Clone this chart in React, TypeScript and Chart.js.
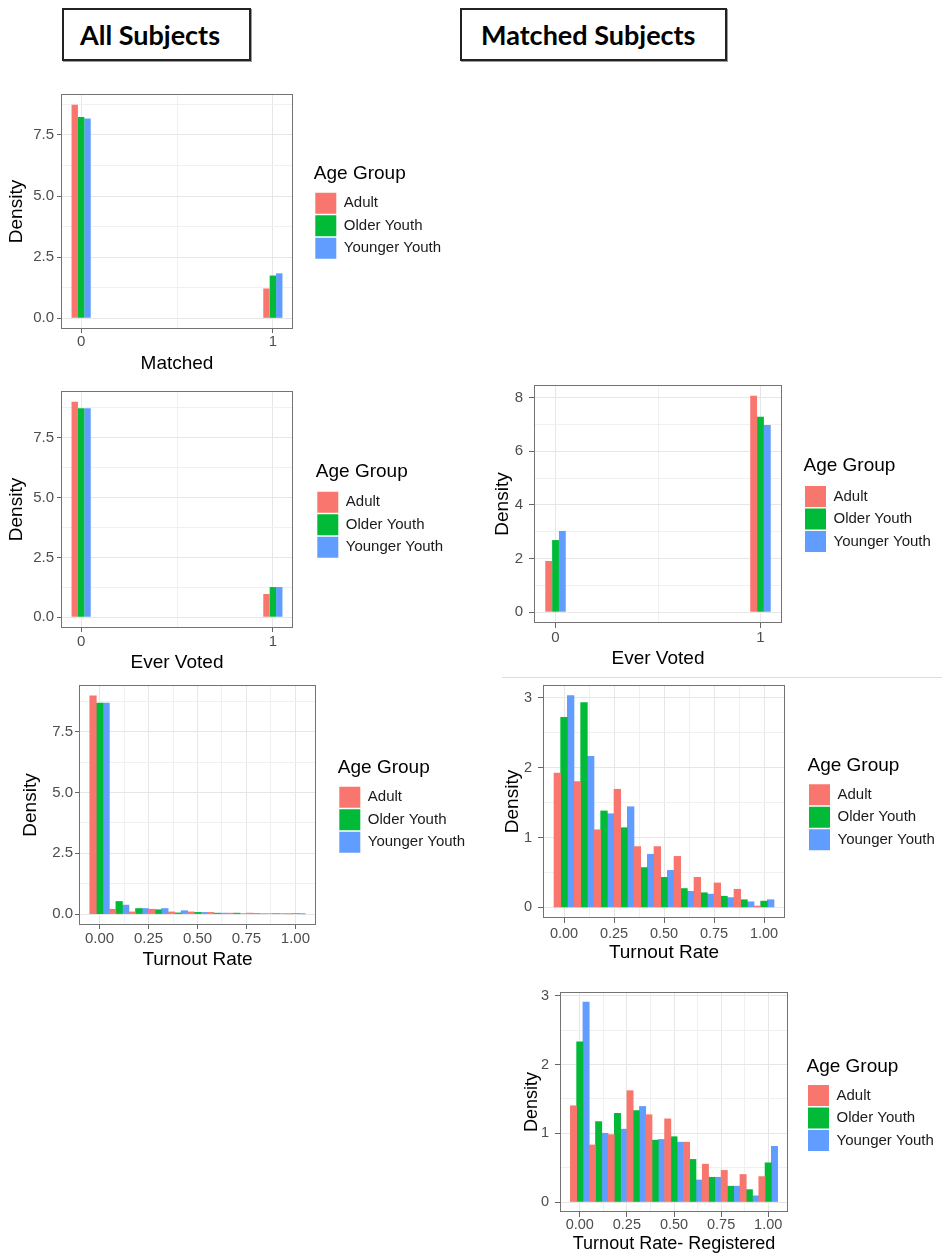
import React, { useEffect, useRef } from "react";
import { Chart, registerables } from "chart.js";

Chart.register(...registerables);
Chart.defaults.font.family = '"Liberation Sans", Arial, Helvetica, sans-serif';

// ---------------- data ----------------
const ageGroups = ["Adult", "Older Youth", "Younger Youth"];
const ageColors = ["#F8766D", "#00BA38", "#619CFF"];

const binWidth = 0.1;
const binaryBins = [0, 1];
const rateBins = [0, 0.1, 0.2, 0.3, 0.4, 0.5, 0.6, 0.7, 0.8, 0.9, 1.0];

// All subjects: Matched
const allMatchedAdult = [8.74, 1.22];
const allMatchedOlder = [8.24, 1.75];
const allMatchedYounger = [8.17, 1.84];

// All subjects: Ever Voted
const allEverVotedAdult = [9.0, 0.97];
const allEverVotedOlder = [8.73, 1.26];
const allEverVotedYounger = [8.73, 1.26];

// All subjects: Turnout Rate
const allTurnoutAdult = [8.98, 0.2, 0.09, 0.2, 0.09, 0.09, 0.07, 0.04, 0.04, 0.02, 0.01];
const allTurnoutOlder = [8.69, 0.52, 0.23, 0.18, 0.05, 0.07, 0.04, 0.04, 0.02, 0.02, 0.02];
const allTurnoutYounger = [8.69, 0.37, 0.23, 0.23, 0.14, 0.07, 0.04, 0.02, 0.02, 0.02, 0.01];

// Matched subjects: Ever Voted
const matchedEverVotedAdult = [1.91, 8.07];
const matchedEverVotedOlder = [2.69, 7.29];
const matchedEverVotedYounger = [3.03, 6.98];

// Matched subjects: Turnout Rate
const matchedTurnoutAdult = [1.92, 1.8, 1.11, 1.69, 0.87, 0.87, 0.73, 0.43, 0.35, 0.26, 0.02];
const matchedTurnoutOlder = [2.72, 2.93, 1.38, 1.14, 0.57, 0.43, 0.27, 0.21, 0.16, 0.11, 0.09];
const matchedTurnoutYounger = [3.03, 2.16, 1.34, 1.44, 0.76, 0.53, 0.23, 0.19, 0.14, 0.08, 0.11];

// Matched subjects: Turnout Rate - Registered
const registeredAdult = [1.4, 0.83, 0.98, 1.62, 1.27, 1.21, 0.87, 0.55, 0.46, 0.4, 0.37];
const registeredOlder = [2.33, 1.17, 1.29, 1.33, 0.9, 0.95, 0.62, 0.36, 0.23, 0.18, 0.57];
const registeredYounger = [2.91, 1.0, 1.06, 1.39, 0.91, 0.87, 0.32, 0.36, 0.23, 0.09, 0.81];

// tick values and labels
const binaryTicks = [0, 1];
const binaryTickLabels = ["0", "1"];
const binaryMinorTicks = [0.5];

const rateTicks = [0, 0.25, 0.5, 0.75, 1];
const rateTickLabels = ["0.00", "0.25", "0.50", "0.75", "1.00"];
const rateMinorTicks = [0.125, 0.375, 0.625, 0.875];

const densityTicksA = [0, 2.5, 5, 7.5];
const densityLabelsA = ["0.0", "2.5", "5.0", "7.5"];
const densityMinorA = [1.25, 3.75, 6.25, 8.75];

const densityTicksEight = [0, 2, 4, 6, 8];
const densityLabelsEight = ["0", "2", "4", "6", "8"];
const densityMinorEight = [1, 3, 5, 7];

const densityTicksThree = [0, 1, 2, 3];
const densityLabelsThree = ["0", "1", "2", "3"];
const densityMinorThree = [0.5, 1.5, 2.5];

// ---------------- layout ----------------
type Box = { left: number; top: number; width: number; height: number };
type Area = { left: number; top: number; right: number; bottom: number };
type PanelSpec = {
  id: string;
  canvas: Box;
  plot: Area;
  bins: number[];
  series: number[][];
  xTicks: number[];
  xTickLabels: string[];
  xMinor: number[];
  xTitle: string;
  yTicks: number[];
  yTickLabels: string[];
  yMinor: number[];
  yTitleX: number;
  xTitleY: number;
  tickFont: number;
  titleFont: number;
  tickLen: number;
  xTickPad: number;
  yTickPad: number;
  legendTitleY: number;
  legendKeyLeft: number;
  legendKeyTop: number;
};

const panels: PanelSpec[] = [
  {
    id: "all-matched",
    canvas: { left: 0, top: 78, width: 470, height: 298 },
    plot: { left: 61, top: 94, right: 293, bottom: 329 },
    bins: binaryBins,
    series: [allMatchedAdult, allMatchedOlder, allMatchedYounger],
    xTicks: binaryTicks, xTickLabels: binaryTickLabels, xMinor: binaryMinorTicks, xTitle: "Matched",
    yTicks: densityTicksA, yTickLabels: densityLabelsA, yMinor: densityMinorA,
    yTitleX: 17, xTitleY: 364, tickFont: 15, titleFont: 19, tickLen: 4, xTickPad: 0, yTickPad: 3,
    legendTitleY: 173.8, legendKeyLeft: 315.3, legendKeyTop: 192.7,
  },
  {
    id: "all-ever",
    canvas: { left: 0, top: 375, width: 470, height: 299 },
    plot: { left: 61, top: 391, right: 293, bottom: 628 },
    bins: binaryBins,
    series: [allEverVotedAdult, allEverVotedOlder, allEverVotedYounger],
    xTicks: binaryTicks, xTickLabels: binaryTickLabels, xMinor: binaryMinorTicks, xTitle: "Ever Voted",
    yTicks: densityTicksA, yTickLabels: densityLabelsA, yMinor: densityMinorA,
    yTitleX: 17, xTitleY: 662.5, tickFont: 15, titleFont: 19, tickLen: 4, xTickPad: 1, yTickPad: 3,
    legendTitleY: 471.7, legendKeyLeft: 317.3, legendKeyTop: 491.7,
  },
  {
    id: "all-turnout",
    canvas: { left: 0, top: 669, width: 500, height: 303 },
    plot: { left: 79, top: 685, right: 316, bottom: 925 },
    bins: rateBins,
    series: [allTurnoutAdult, allTurnoutOlder, allTurnoutYounger],
    xTicks: rateTicks, xTickLabels: rateTickLabels, xMinor: rateMinorTicks, xTitle: "Turnout Rate",
    yTicks: densityTicksA, yTickLabels: densityLabelsA, yMinor: densityMinorA,
    yTitleX: 31, xTitleY: 960, tickFont: 15, titleFont: 19, tickLen: 4, xTickPad: 1, yTickPad: 2,
    legendTitleY: 767.5, legendKeyLeft: 339.3, legendKeyTop: 786.7,
  },
  {
    id: "matched-ever",
    canvas: { left: 480, top: 369, width: 462, height: 302 },
    plot: { left: 534, top: 385, right: 782, bottom: 623 },
    bins: binaryBins,
    series: [matchedEverVotedAdult, matchedEverVotedOlder, matchedEverVotedYounger],
    xTicks: binaryTicks, xTickLabels: binaryTickLabels, xMinor: binaryMinorTicks, xTitle: "Ever Voted",
    yTicks: densityTicksEight, yTickLabels: densityLabelsEight, yMinor: densityMinorEight,
    yTitleX: 503, xTitleY: 659, tickFont: 15, titleFont: 19, tickLen: 5, xTickPad: 0.7, yTickPad: 6,
    legendTitleY: 465.8, legendKeyLeft: 805, legendKeyTop: 486,
  },
  {
    id: "matched-turnout",
    canvas: { left: 480, top: 669, width: 462, height: 295 },
    plot: { left: 543, top: 685, right: 785, bottom: 918 },
    bins: rateBins,
    series: [matchedTurnoutAdult, matchedTurnoutOlder, matchedTurnoutYounger],
    xTicks: rateTicks, xTickLabels: rateTickLabels, xMinor: rateMinorTicks, xTitle: "Turnout Rate",
    yTicks: densityTicksThree, yTickLabels: densityLabelsThree, yMinor: densityMinorThree,
    yTitleX: 512.5, xTitleY: 952.5, tickFont: 14.5, titleFont: 19, tickLen: 5, xTickPad: 2.4, yTickPad: 6,
    legendTitleY: 765.8, legendKeyLeft: 809, legendKeyTop: 784.3,
  },
  {
    id: "matched-registered",
    canvas: { left: 500, top: 976, width: 442, height: 279 },
    plot: { left: 560, top: 992, right: 788, bottom: 1212 },
    bins: rateBins,
    series: [registeredAdult, registeredOlder, registeredYounger],
    xTicks: rateTicks, xTickLabels: rateTickLabels, xMinor: rateMinorTicks, xTitle: "Turnout Rate- Registered",
    yTicks: densityTicksThree, yTickLabels: densityLabelsThree, yMinor: densityMinorThree,
    yTitleX: 532.5, xTitleY: 1244, tickFont: 14.5, titleFont: 18, tickLen: 5, xTickPad: -1, yTickPad: 6,
    legendTitleY: 1067, legendKeyLeft: 808, legendKeyTop: 1085,
  },
];

const near = (a: number, b: number) => Math.abs(a - b) < 1e-9;
const isIn = (list: number[], v: number) => list.some((m) => near(m, v));
const labelFor = (v: number, ticks: number[], labels: string[]) => {
  const i = ticks.findIndex((m) => near(m, v));
  return i >= 0 ? labels[i] : "";
};
const minGap = (vals: number[]) => {
  const s = [...vals].sort((a, b) => a - b);
  let g = Infinity;
  for (let i = 1; i < s.length; i++) g = Math.min(g, s[i] - s[i - 1]);
  return g;
};

const framePlugin = {
  id: "panelFrame",
  afterDatasetsDraw(chart: any) {
    const { ctx, chartArea } = chart;
    const { left, top, right, bottom } = chartArea;
    ctx.save();
    ctx.strokeStyle = "#737373";
    ctx.lineWidth = 1;
    ctx.strokeRect(Math.round(left) + 0.5, Math.round(top) + 0.5, Math.round(right - left) - 1, Math.round(bottom - top) - 1);
    ctx.restore();
  },
};

function buildConfig(spec: PanelSpec): any {
  const { canvas: cv, plot } = spec;
  const padTop = plot.top - cv.top;
  const yAxisWidth = plot.left - cv.left;
  const xAxisHeight = cv.top + cv.height - plot.bottom;
  const legendWidth = cv.left + cv.width - plot.right;
  const titleLH = spec.titleFont * 1.2;
  const yTitlePadTop = spec.yTitleX - cv.left - titleLH / 2;
  const xTitlePadBottom = cv.top + cv.height - spec.xTitleY - titleLH / 2;

  const legTitleSize = 19;
  const legLabelSize = 15;
  const keyPad = 1.5;
  const keySize = 21;
  const legTitlePadTop = spec.legendTitleY - plot.top - legTitleSize / 2;
  const legTitlePadBottom = spec.legendKeyTop - plot.top - legTitleSize * 1.2 - legTitlePadTop - keyPad;
  const legendLeft = spec.legendKeyLeft - keyPad - cv.left;

  const peak = Math.max(...spec.series.flat());
  const yMin = -0.05 * peak;
  const yMax = 1.05 * peak;
  const lo = spec.bins[0] - binWidth / 2;
  const hi = spec.bins[spec.bins.length - 1] + binWidth / 2;
  const xMin = lo - 0.05 * (hi - lo);
  const xMax = hi + 0.05 * (hi - lo);

  const xTickVals = [...spec.xTicks, ...spec.xMinor].filter((v) => v >= xMin && v <= xMax).sort((a, b) => a - b);
  const yTickVals = [...spec.yTicks, ...spec.yMinor].filter((v) => v >= yMin && v <= yMax).sort((a, b) => a - b);

  const spacing = Math.min(minGap(spec.bins), minGap(xTickVals));
  const categoryPercentage = Math.min(1, binWidth / spacing);

  const gridColor = (major: number[]) => (c: any) =>
    c.tick && isIn(major, c.tick.value) ? "#E6E6E6" : "#F0F0F0";
  const tickColor = (major: number[]) => (c: any) =>
    c.tick && isIn(major, c.tick.value) ? "#666666" : "rgba(0,0,0,0)";

  const placement = {
    id: "legendPlacement",
    beforeInit(chart: any) {
      const lg = chart.legend;
      if (!lg) return;
      const fit = lg.fit;
      lg.fit = function () {
        fit.call(this);
        this.width = legendWidth;
      };
    },
    afterLayout(chart: any) {
      const lg = chart.legend;
      if (!lg) return;
      lg.left = legendLeft;
      lg.right = legendLeft + legendWidth;
    },
  };

  return {
    type: "bar",
    data: {
      datasets: spec.series.map((vals, g) => ({
        label: ageGroups[g],
        data: spec.bins.map((b, i) => ({ x: b, y: vals[i] })),
        backgroundColor: ageColors[g],
        borderWidth: 0,
        categoryPercentage,
        barPercentage: 1,
      })),
    },
    options: {
      responsive: false,
      animation: false,
      devicePixelRatio: 1,
      layout: { padding: { top: padTop, left: 0, right: 0, bottom: 0 } },
      plugins: {
        tooltip: { enabled: false },
        legend: {
          display: true,
          position: "right",
          align: "start",
          title: {
            display: true,
            text: "Age Group",
            position: "start",
            color: "#000000",
            font: { size: legTitleSize },
            padding: { top: legTitlePadTop, bottom: legTitlePadBottom },
          },
          labels: {
            boxWidth: keySize,
            boxHeight: keySize,
            padding: keyPad,
            color: "#1a1a1a",
            font: { size: legLabelSize },
          },
        },
      },
      scales: {
        x: {
          type: "linear",
          min: xMin,
          max: xMax,
          bounds: "data",
          offset: false,
          afterBuildTicks: (scale: any) => {
            scale.ticks = xTickVals.map((v) => ({ value: v }));
          },
          afterFit: (scale: any) => {
            scale.height = xAxisHeight;
          },
          ticks: {
            autoSkip: false,
            maxRotation: 0,
            minRotation: 0,
            padding: spec.xTickPad,
            color: "#4D4D4D",
            font: { size: spec.tickFont },
            callback: (v: any) => labelFor(Number(v), spec.xTicks, spec.xTickLabels),
          },
          grid: {
            offset: false,
            drawTicks: true,
            tickLength: spec.tickLen,
            lineWidth: 1,
            color: gridColor(spec.xTicks),
            tickColor: tickColor(spec.xTicks),
          },
          border: { display: false },
          title: {
            display: true,
            text: spec.xTitle,
            color: "#000000",
            font: { size: spec.titleFont },
            padding: { top: 0, bottom: xTitlePadBottom },
          },
        },
        y: {
          type: "linear",
          min: yMin,
          max: yMax,
          bounds: "data",
          afterBuildTicks: (scale: any) => {
            scale.ticks = yTickVals.map((v) => ({ value: v }));
          },
          afterFit: (scale: any) => {
            scale.width = yAxisWidth;
          },
          ticks: {
            autoSkip: false,
            padding: spec.yTickPad,
            color: "#4D4D4D",
            font: { size: spec.tickFont },
            callback: (v: any) => labelFor(Number(v), spec.yTicks, spec.yTickLabels),
          },
          grid: {
            drawTicks: true,
            tickLength: spec.tickLen,
            lineWidth: 1,
            color: gridColor(spec.yTicks),
            tickColor: tickColor(spec.yTicks),
          },
          border: { display: false },
          title: {
            display: true,
            text: "Density",
            color: "#000000",
            font: { size: spec.titleFont },
            padding: { top: yTitlePadTop, bottom: 0 },
          },
        },
      },
    },
    plugins: [placement, framePlugin],
  };
}

function Panel({ spec }: { spec: PanelSpec }) {
  const ref = useRef<HTMLCanvasElement | null>(null);
  useEffect(() => {
    if (!ref.current) return;
    const chart = new Chart(ref.current, buildConfig(spec));
    return () => chart.destroy();
  }, [spec]);
  const { left, top, width, height } = spec.canvas;
  return (
    <canvas
      ref={ref}
      width={width}
      height={height}
      style={{ position: "absolute", left, top, width, height }}
    />
  );
}

const headerStyle = (left: number, width: number, padLeft: number): React.CSSProperties => ({
  position: "absolute",
  left,
  top: 8,
  width,
  height: 53,
  boxSizing: "border-box",
  border: "2px solid #222222",
  boxShadow: "1px 1px 0 #9a9a9a",
  display: "flex",
  alignItems: "center",
  paddingLeft: padLeft,
  fontFamily: "Lato, 'Open Sans', sans-serif",
  fontWeight: 700,
  fontSize: 27,
  color: "#000000",
  whiteSpace: "nowrap",
});

export default function App() {
  return (
    <div style={{ position: "absolute", left: 0, top: 0, width: 942, height: 1257, background: "#ffffff", overflow: "hidden" }}>
      <div style={headerStyle(62, 189, 16)}>All Subjects</div>
      <div style={headerStyle(460, 267, 19)}>Matched Subjects</div>
      <div style={{ position: "absolute", left: 502, top: 677, width: 440, height: 1, background: "#dcdcdc" }} />
      {panels.map((p) => (
        <Panel key={p.id} spec={p} />
      ))}
    </div>
  );
}
